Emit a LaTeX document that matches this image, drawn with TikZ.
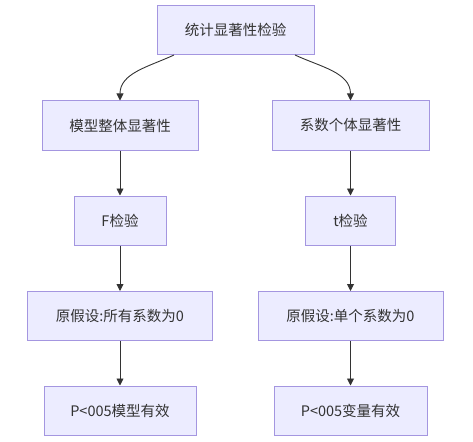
\documentclass[tikz,border=0pt]{standalone}
\usepackage{fontspec}
\setmainfont{Noto Sans CJK SC}
\usepackage{xcolor}
\usetikzlibrary{arrows.meta,positioning}
\definecolor{boxfill}{HTML}{ECECFF}
\definecolor{boxline}{HTML}{A496E0}
\definecolor{linegray}{HTML}{333333}

\begin{document}
\begin{tikzpicture}[x=1pt,y=-1pt,
  every node/.style={font=\fontsize{14.5}{17}\selectfont,text=linegray},
  box/.style={rectangle,draw=boxline,fill=boxfill,line width=1pt,minimum height=49pt,inner sep=0pt},
  arc/.style={-{Triangle[length=7pt,width=7pt]},draw=linegray,line width=0.9pt}
]
\useasboundingbox (0,0) rectangle (473,441);
\def\lx{120}
\def\rx{350.5}
\node[box,minimum width=157pt] (top) at (235.5,30) {统计显著性检验};

% left branch: whole model
\node[box,minimum width=156pt] (whole) at (\lx,125.5) {模型整体显著性};
\node[box,minimum width=92pt] (ftest) at (\lx,220.5) {F检验};
\node[box,minimum width=185pt] (h0all) at (\lx,316) {原假设:所有系数为0};
\node[box,minimum width=152pt] (pall) at (\lx,410.5) {P<005模型有效};

% right branch: single coefficients
\node[box,minimum width=157pt] (single) at (\rx,125.5) {系数个体显著性};
\node[box,minimum width=90pt] (ttest) at (\rx,220.5) {t检验};
\node[box,minimum width=185pt] (h0one) at (\rx,316) {原假设:单个系数为0};
\node[box,minimum width=153pt] (pone) at (\rx,410.5) {P<005变量有效};

\draw[arc] ([xshift=-61.5pt]top.south) to[out=-155,in=90] (whole.north);
\draw[arc] ([xshift=59.5pt]top.south) to[out=-25,in=90] (single.north);

\foreach \a/\b in {whole/ftest,ftest/h0all,h0all/pall,single/ttest,ttest/h0one,h0one/pone}
  \draw[arc] (\a) -- (\b);
\end{tikzpicture}
\end{document}
